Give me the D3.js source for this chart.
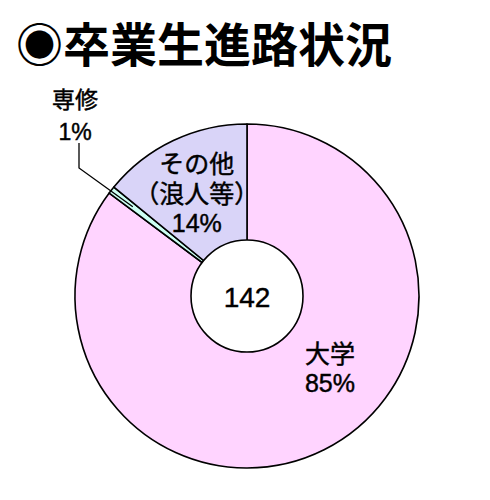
<!DOCTYPE html>
<html><head><meta charset="utf-8">
<script src="https://cdn.jsdelivr.net/npm/d3@7"></script>
<style>
html,body{margin:0;padding:0;background:#fff;}
svg text{font-family:"Liberation Sans","Noto Sans CJK JP",sans-serif;fill:#000;}
svg text.lbl{stroke:#000;stroke-width:0.45px;}
</style></head>
<body>
<svg id="chart" width="490" height="500"></svg>
<script>
const title = "◉卒業生進路状況";
const categories = ["大学", "専修", "その他"];
const subLabels = ["", "", "（浪人等）"];
const values = [121, 1, 20];
const percentLabels = ["85%", "1%", "14%"];
const total = 142;
const colors = ["#FFD4FF", "#CCFFF2", "#D9D4F8"];

const svg = d3.select("#chart");
const cx = 247, cy = 296, rOuter = 172, rInner = 56;

svg.append("text")
  .attr("x", 16).attr("y", 62)
  .style("font-family", "'Noto Sans CJK JP',sans-serif")
  .style("font-weight", "bold")
  .style("font-size", "47px")
  .text(title);

const g = svg.append("g").attr("transform", `translate(${cx},${cy})`);
const pie = d3.pie().sort(null).value(d => d.v);
const data = pie(categories.map((c, i) => ({c, v: values[i], i})));
const arc = d3.arc().innerRadius(0).outerRadius(rOuter);

g.selectAll("path.slice").data(data).join("path")
  .attr("class", "slice")
  .attr("d", arc)
  .attr("fill", d => colors[d.data.i])
  .attr("stroke", "#000")
  .attr("stroke-width", 1.6)
  .attr("stroke-linejoin", "round");

// leader line for the small slice
const small = data[1];
const midA = (small.startAngle + small.endAngle) / 2;
const pt = r => [r * Math.sin(midA), -r * Math.cos(midA)];
const inner = pt(145);
g.append("polyline")
  .attr("points", [[79 - cx, 143 - cy], [79 - cx, 168 - cy], inner].map(p => p.join(",")).join(" "))
  .attr("fill", "none").attr("stroke", "#000").attr("stroke-width", 1.3);

// center hole
g.append("circle").attr("r", rInner).attr("fill", "#fff")
  .attr("stroke", "#000").attr("stroke-width", 1.6);
g.append("text").attr("class", "lbl").attr("text-anchor", "middle").attr("y", 11)
  .style("font-size", "28px").text(total);

// labels
function label(lines, x, y, size, lh) {
  const t = svg.append("text").attr("class", "lbl").attr("text-anchor", "middle").style("font-size", size + "px");
  lines.forEach((s, k) => t.append("tspan").attr("x", x).attr("y", y + k * lh).text(s));
}
// 大学
label([categories[0], percentLabels[0]], 330, 363, 25, 29);
// 専修
label([categories[1], percentLabels[1]], 75, 108, 23, 32);
// その他
const c2 = d3.arc().innerRadius(115).outerRadius(115).centroid(data[2]);
label([categories[2], subLabels[2], percentLabels[2]], cx + c2[0] - 1, 173, 25, 29.5);
</script>
</body></html>
